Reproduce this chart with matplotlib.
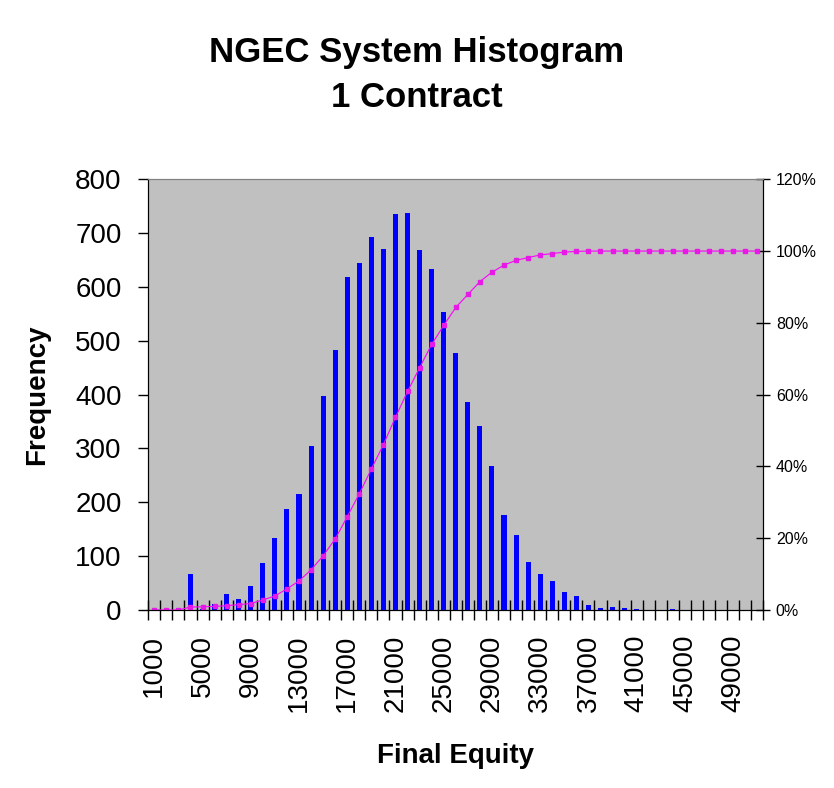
import numpy as np
import matplotlib
matplotlib.use('Agg')
import matplotlib.pyplot as plt
from matplotlib.ticker import FuncFormatter

plt.rcParams['font.family'] = ['Liberation Sans', 'DejaVu Sans']

# histogram bins (final equity), counts and cumulative %
bins = [1000, 2000, 3000, 4000, 5000, 6000, 7000, 8000, 9000, 10000,
        11000, 12000, 13000, 14000, 15000, 16000, 17000, 18000, 19000, 20000,
        21000, 22000, 23000, 24000, 25000, 26000, 27000, 28000, 29000, 30000,
        31000, 32000, 33000, 34000, 35000, 36000, 37000, 38000, 39000, 40000,
        41000, 42000, 43000, 44000, 45000, 46000, 47000, 48000, 49000, 50000,
        51000]
freq = [0, 0, 3, 67, 1, 12, 29, 20, 45, 88,
        133, 187, 216, 304, 398, 482, 619, 645, 692, 670,
        735, 737, 668, 633, 553, 478, 386, 342, 268, 177,
        140, 89, 67, 54, 33, 26, 9, 4, 6, 4,
        2, 0, 0, 1, 0, 0, 0, 0, 0, 0,
        0]
cum_pct = [0.0, 0.0, 0.0, 0.8, 0.9, 1.0, 1.2, 1.5, 1.8, 2.8,
           3.9, 5.9, 8.1, 11.2, 15.1, 19.8, 26.0, 32.4, 39.3, 46.1,
           53.7, 60.9, 67.5, 74.0, 79.3, 84.3, 87.9, 91.5, 94.1, 96.1,
           97.4, 98.2, 98.9, 99.3, 99.7, 99.9, 100.0, 100.0, 100.0, 100.0,
           100.0, 100.0, 100.0, 100.0, 100.0, 100.0, 100.0, 100.0, 100.0, 100.0,
           100.0]

fig = plt.figure(figsize=(8.34, 7.88), dpi=100)
ax = fig.add_axes([0.1778, 0.2259, 0.7374, 0.5466])
x = np.arange(len(bins))

ax.set_facecolor('#C0C0C0')
ax.bar(x, freq, width=0.42, color='#0000FF', zorder=2)
ax.set_xlim(-0.5, len(bins) - 0.5)
ax.set_ylim(0, 800)
ax.set_yticks(range(0, 801, 100))
ax.tick_params(axis='y', direction='out', length=7.2, width=1, labelsize=20, pad=12)

# tick marks between bins, labels on every 4th bin
ax.set_xticks(np.arange(len(bins) + 1) - 0.5)
ax.set_xticklabels([])
ax.tick_params(axis='x', which='major', direction='inout', length=14.4, width=1)
lab_idx = x[::4]
ax.set_xticks(lab_idx, minor=True)
ax.set_xticklabels([str(bins[i]) for i in lab_idx], minor=True, rotation=90, fontsize=20)
ax.tick_params(axis='x', which='minor', length=0, pad=18)

for s in ['left', 'bottom', 'right']:
    ax.spines[s].set_color('black')
ax.spines['top'].set_color('#808080')

ax.set_ylabel('Frequency', fontsize=20, fontweight='bold')
ax.yaxis.set_label_coords(-0.16, 0.5)
ax.set_xlabel('Final Equity', fontsize=20, fontweight='bold', va='baseline')
ax.xaxis.set_label_coords(0.5, -0.3545)

# cumulative % on the secondary axis
ax2 = ax.twinx()
ax2.plot(x, np.array(cum_pct) / 100, color='#FF00FF', lw=0.8,
         marker='s', ms=3.5, mfc='#E619E6', mec='#E619E6')
ax2.set_ylim(0, 1.2)
ax2.set_yticks(np.arange(0, 1.21, 0.2))
ax2.yaxis.set_major_formatter(FuncFormatter(lambda v, p: f'{v * 100:.0f}%'))
ax2.tick_params(axis='y', direction='inout', length=10, width=1, labelsize=11.5, pad=4)
ax2.spines['top'].set_color('#808080')

fig.text(0.5, 1 - 61.7 / 788, 'NGEC System Histogram', ha='center', va='baseline',
         fontsize=25, fontweight='bold')
fig.text(0.5, 1 - 107.3 / 788, '1 Contract', ha='center', va='baseline',
         fontsize=25, fontweight='bold')

plt.savefig('out.png', dpi=100)
plt.close()
